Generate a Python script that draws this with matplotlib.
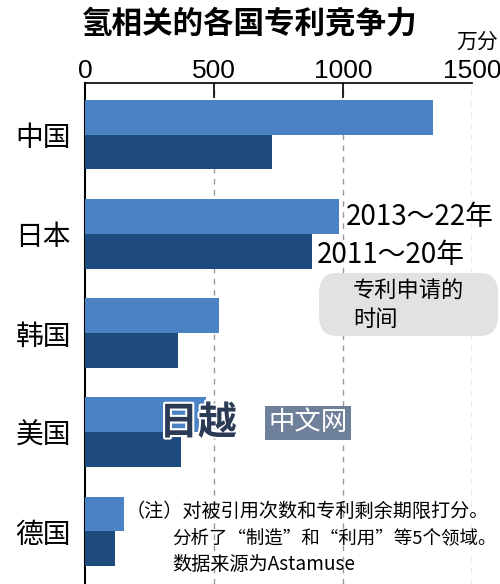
import numpy as np
import matplotlib.pyplot as plt
import matplotlib.patheffects as pe
from matplotlib.patches import FancyBboxPatch

plt.rcParams['font.family'] = ['Noto Sans CJK SC', 'DejaVu Sans']

countries = ["中国", "日本", "韩国", "美国", "德国"]
recent = [1350, 985, 520, 470, 150]     # 2013～22年
earlier = [725, 880, 360, 372, 116]     # 2011～20年
xticks = [0, 500, 1000, 1500]

light = "#4a82c4"
dark = "#1e4b7d"

fig = plt.figure(figsize=(5, 5.84), dpi=100)
W, H = 500, 584
ax = fig.add_axes([85 / W, 0, (472 - 85) / W, (584 - 83) / H])

y = np.arange(len(countries))
bh = 0.35
ax.barh(y - bh / 2, recent, height=bh, color=light, edgecolor="none", zorder=3)
ax.barh(y + bh / 2, earlier, height=bh, color=dark, edgecolor="none", zorder=3)

for v in xticks[1:]:
    ax.axvline(v, color="#999999", lw=1, ls=(0, (4, 4)), zorder=1)

ax.set_xlim(0, 1500)
ax.set_ylim(4.53, -0.52)
ax.xaxis.tick_top()
ax.set_xticks(xticks)
ax.set_xticklabels([str(v) for v in xticks], fontsize=19, family="Liberation Sans")
ax.tick_params(axis="x", direction="in", length=11, width=1.2, pad=0, color="black")
ax.xaxis.get_major_ticks()[3].tick2line.set_visible(False)
ax.xaxis.get_major_ticks()[0].tick2line.set_visible(False)
ax.set_yticks(y)
ax.set_yticklabels(countries, fontsize=20)
ax.tick_params(axis="y", length=0, pad=10)
for s in ["right", "bottom"]:
    ax.spines[s].set_visible(False)
ax.spines["top"].set_linewidth(1.2)
ax.spines["left"].set_linewidth(1.5)

# title and unit
fig.text(250 / W, 1 - 23 / H, "氢相关的各国专利竞争力", ha="center", va="center",
         fontsize=22, fontweight="heavy")
fig.text(498 / W, 1 - 42 / H, "万分", ha="right", va="center", fontsize=15)

# legend-like labels
fig.text(346 / W, 1 - 217 / H, "2013～22年", ha="left", va="center", fontsize=20)
fig.text(317 / W, 1 - 255 / H, "2011～20年", ha="left", va="center", fontsize=20)
box = FancyBboxPatch((319 / W, 1 - 336 / H), (498 - 319) / W, (336 - 273) / H,
                     boxstyle="round,pad=0,rounding_size=0.035",
                     transform=fig.transFigure, facecolor="#e2e2e2",
                     edgecolor="none", zorder=0)
fig.patches.append(box)
fig.text(353 / W, 1 - 290 / H, "专利申请的", ha="left", va="center", fontsize=16)
fig.text(353 / W, 1 - 319 / H, "时间", ha="left", va="center", fontsize=16)

# watermark
fig.text(198 / W, 1 - 423 / H, "日越", ha="center", va="center", fontsize=28,
         fontweight="bold", color="#2b3a55", style="italic",
         path_effects=[pe.withStroke(linewidth=3, foreground="white")], zorder=5)
fig.text(308 / W, 1 - 423 / H, "中文网", ha="center", va="center", fontsize=19,
         color="white", zorder=5,
         bbox=dict(boxstyle="square,pad=0.12", facecolor="#6f809a", edgecolor="none"))

# note
notes = ["（注）对被引用次数和专利剩余期限打分。",
         "分析了“制造”和“利用”等5个领域。",
         "数据来源为Astamuse"]
fig.text(126 / W, 1 - 511 / H, notes[0], ha="left", va="center", fontsize=13.8)
fig.text(172 / W, 1 - 538 / H, notes[1], ha="left", va="center", fontsize=13.3)
fig.text(172 / W, 1 - 565 / H, notes[2], ha="left", va="center", fontsize=13.8)

fig.savefig("out.png", dpi=100, facecolor="white")
